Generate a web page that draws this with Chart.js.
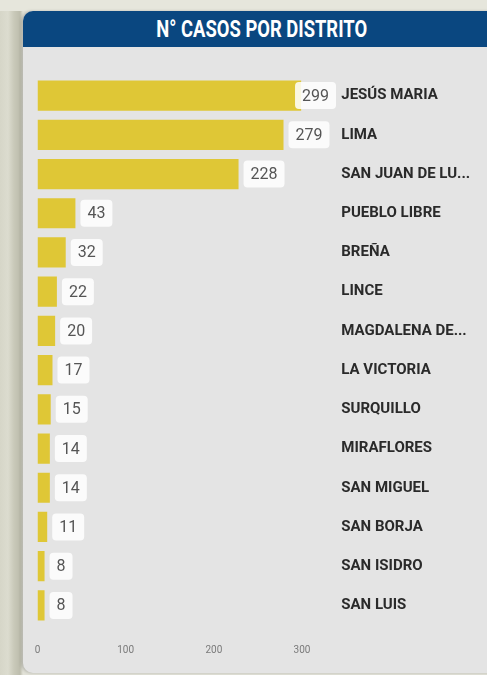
<!DOCTYPE html>
<html>
<head>
<meta charset="utf-8">
<script src="https://cdn.jsdelivr.net/npm/chart.js@4"></script>
<style>
  html, body { margin: 0; padding: 0; }
  body {
    width: 487px; height: 675px; position: relative; overflow: hidden;
    background: linear-gradient(to right, #d6d6c8 0px, #dcdccf 8px, #c9c9b9 14px, #bdbdad 20px, #e2e2d8 23px);
  }
  .topstrip { position: absolute; left: 0; top: 0; width: 487px; height: 11px; background: #e6e6dc; }
  .card {
    position: absolute; left: 23px; top: 11px; width: 480px; height: 662px;
    background: #e4e4e4; border-radius: 10px 0 0 10px;
    box-shadow: -2px 0 3px rgba(0,0,0,0.18);
    overflow: hidden;
  }
  .header {
    height: 36px; background: #0a4780; color: #fff;
    font-family: Roboto, sans-serif; font-weight: bold; font-size: 23px;
    line-height: 37px; text-align: center; width: 478px;
  }
  .header span { display: inline-block; transform: scaleX(0.8); }
  #wrap { position: absolute; left: 0; top: 0; width: 487px; height: 675px; }
</style>
</head>
<body>
<div class="topstrip"></div>
<div class="card"><div class="header"><span>N° CASOS POR DISTRITO</span></div></div>
<div id="wrap"><canvas id="chart"></canvas></div>
<script>
// Districts and number of cases
const districts = [
    'JESÚS MARIA', 'LIMA', 'SAN JUAN DE LU...', 'PUEBLO LIBRE', 'BREÑA', 'LINCE',
    'MAGDALENA DE...', 'LA VICTORIA', 'SURQUILLO', 'MIRAFLORES', 'SAN MIGUEL',
    'SAN BORJA', 'SAN ISIDRO', 'SAN LUIS'
];
const cases = [299, 279, 228, 43, 32, 22, 20, 17, 15, 14, 14, 11, 8, 8];
const xTicks = [0, 100, 200, 300];

// Value labels in white rounded boxes next to each bar
const valueBoxes = {
    id: 'valueBoxes',
    afterDatasetsDraw(chart) {
        const ctx = chart.ctx;
        const meta = chart.getDatasetMeta(0);
        ctx.save();
        ctx.font = '16px Roboto, sans-serif';
        ctx.textBaseline = 'middle';
        ctx.textAlign = 'center';
        meta.data.forEach((bar, i) => {
            const text = String(cases[i]);
            const w = ctx.measureText(text).width + 14;
            const h = 27;
            let x = bar.x + 5;
            if (x + w > 336) x = 336 - w;
            ctx.fillStyle = 'rgba(255,255,255,0.85)';
            ctx.beginPath();
            ctx.roundRect(x, bar.y - h / 2, w, h, 4);
            ctx.fill();
            ctx.fillStyle = '#555555';
            ctx.fillText(text, x + w / 2, bar.y + 1);
        });
        ctx.restore();
    }
};

new Chart(document.getElementById('chart'), {
    type: 'bar',
    data: {
        labels: districts,
        datasets: [{
            data: cases,
            backgroundColor: '#dfc736',
            borderWidth: 0,
            barPercentage: 0.77,
            categoryPercentage: 1
        }]
    },
    options: {
        indexAxis: 'y',
        responsive: true,
        maintainAspectRatio: false,
        animation: false,
        layout: { padding: { left: 37.5, top: 76, right: 0, bottom: 0 } },
        plugins: { legend: { display: false }, tooltip: { enabled: false } },
        scales: {
            x: {
                min: 0,
                max: 340,
                afterBuildTicks: (s) => { s.ticks = xTicks.map(v => ({ value: v })); },
                grid: { display: false, drawTicks: false },
                border: { display: false },
                ticks: {
                    padding: 19,
                    color: '#7a7a7a',
                    font: { family: 'Roboto, sans-serif', size: 10 }
                }
            },
            y: {
                position: 'right',
                afterFit: (s) => { s.width = 149.7; },
                grid: { display: false, drawTicks: false },
                border: { display: false },
                ticks: {
                    crossAlign: 'near',
                    padding: 4,
                    color: '#2a2a2a',
                    font: { family: 'Roboto, sans-serif', size: 15, weight: 'bold' }
                }
            }
        }
    },
    plugins: [valueBoxes]
});
</script>
</body>
</html>
